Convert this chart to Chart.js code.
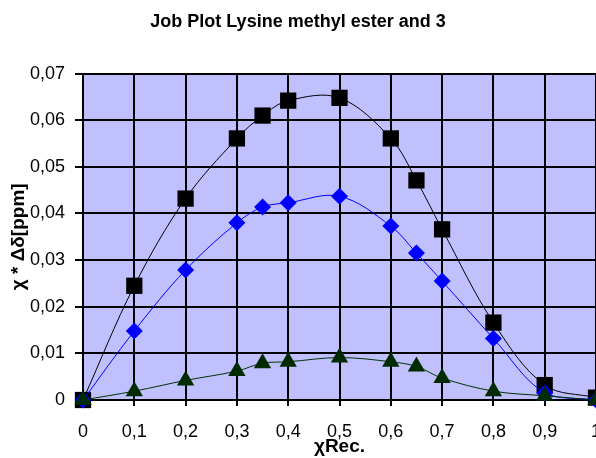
<!DOCTYPE html>
<html>
<head>
<meta charset="utf-8">
<script src="https://cdn.jsdelivr.net/npm/chart.js@4.4.0/dist/chart.umd.min.js"></script>
<style>
  html, body { margin: 0; padding: 0; background: #fff; }
  #wrap { width: 596px; height: 458px; }
</style>
</head>
<body>
<div id="wrap"><canvas id="jobPlot"></canvas></div>
<script>
// mole fraction of receptor and the measured chi * delta-delta values
const xValues = [0, 0.1, 0.2, 0.3, 0.35, 0.4, 0.5, 0.6, 0.65, 0.7, 0.8, 0.9, 1];
const seriesSquares = [0, 0.0245, 0.0432, 0.0561, 0.0610, 0.0642, 0.0648, 0.0561, 0.0471, 0.0366, 0.0166, 0.0032, 0.0005];
const seriesDiamonds = [0, 0.0148, 0.0279, 0.0380, 0.0414, 0.0423, 0.0437, 0.0373, 0.0315, 0.0255, 0.0132, 0.0015, 0];
const seriesTriangles = [0, 0.0019, 0.0042, 0.0062, 0.0079, 0.0082, 0.0091, 0.0082, 0.0072, 0.0047, 0.0019, 0.0009, 0];

const xTicks = [0, 0.1, 0.2, 0.3, 0.4, 0.5, 0.6, 0.7, 0.8, 0.9, 1];
const yTicks = [0, 0.01, 0.02, 0.03, 0.04, 0.05, 0.06, 0.07];

const FONT = "'Liberation Sans', Arial, sans-serif";

function toPoints(ys) {
    return xValues.map((x, i) => ({ x: x, y: ys[i] }));
}

function commaLabel(v) {
    return String(Number(v.toFixed(2))).replace('.', ',');
}

// lavender fill behind the grid
const plotBackground = {
    id: 'plotBackground',
    beforeDraw(chart) {
        const { ctx, chartArea: a } = chart;
        ctx.save();
        ctx.fillStyle = '#c0c0ff';
        ctx.fillRect(a.left, a.top, a.right - a.left, a.bottom - a.top);
        ctx.restore();
    }
};

new Chart(document.getElementById('jobPlot'), {
    type: 'line',
    data: {
        datasets: [{
            data: toPoints(seriesTriangles),
            borderColor: '#003300',
            backgroundColor: '#002b00',
            borderWidth: 1,
            pointStyle: 'triangle',
            pointRadius: 10,
            pointBorderWidth: 0,
            tension: 0.35,
            clip: false
        }, {
            data: toPoints(seriesDiamonds),
            borderColor: '#0000ff',
            backgroundColor: '#0000ff',
            borderWidth: 1,
            pointStyle: 'rectRot',
            pointRadius: 8.5,
            pointBorderWidth: 0,
            tension: 0.35,
            clip: false
        }, {
            data: toPoints(seriesSquares),
            borderColor: '#000000',
            backgroundColor: '#000000',
            borderWidth: 1,
            pointStyle: 'rect',
            pointRadius: 11.5,
            pointBorderWidth: 0,
            tension: 0.35,
            clip: false
        }]
    },
    options: {
        responsive: true,
        maintainAspectRatio: false,
        animation: false,
        // plot runs right up to the canvas edge, markers may overhang
        layout: { autoPadding: false, padding: 0 },
        plugins: {
            legend: { display: false },
            tooltip: { enabled: false },
            title: {
                display: true,
                text: 'Job Plot Lysine methyl ester and 3',
                color: '#000',
                font: { family: FONT, size: 18, weight: 'bold' },
                padding: { top: 11, bottom: 41 }
            }
        },
        scales: {
            x: {
                type: 'linear',
                min: 0,
                max: 1,
                afterBuildTicks: s => { s.ticks = xTicks.map(v => ({ value: v })); },
                afterFit: s => { s.height = 58; s.paddingLeft = 0; s.paddingRight = 0; },
                ticks: {
                    color: '#000',
                    font: { family: FONT, size: 18 },
                    padding: 15,
                    maxRotation: 0,
                    callback: v => commaLabel(v)
                },
                grid: { color: '#000', lineWidth: 2, tickLength: 6, tickColor: '#000' },
                border: { color: '#000', width: 2 },
                title: {
                    display: true,
                    text: 'χRec.',
                    color: '#000',
                    font: { family: FONT, size: 19, weight: 'bold' },
                    padding: { top: 0, bottom: 0 }
                }
            },
            y: {
                min: 0,
                max: 0.07,
                afterBuildTicks: s => { s.ticks = yTicks.map(v => ({ value: v })); },
                afterFit: s => { s.width = 83; s.paddingTop = 0; s.paddingBottom = 0; },
                ticks: {
                    color: '#000',
                    font: { family: FONT, size: 18 },
                    padding: 10,
                    callback: v => commaLabel(v)
                },
                grid: { color: '#000', lineWidth: 2, tickLength: 8, tickColor: '#000' },
                border: { color: '#000', width: 2 },
                title: {
                    display: true,
                    text: 'χ * Δδ[ppm]',
                    color: '#000',
                    font: { family: FONT, size: 19, weight: 'bold' },
                    padding: { top: 7, bottom: 0 }
                }
            }
        }
    },
    plugins: [plotBackground]
});
</script>
</body>
</html>
